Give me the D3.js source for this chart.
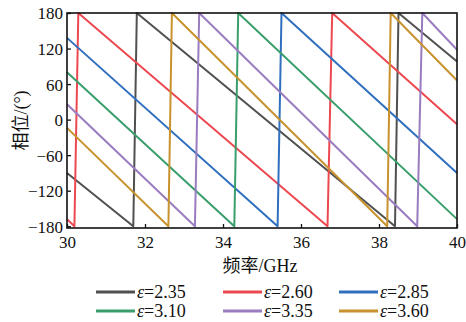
<!DOCTYPE html>
<html>
<head>
<meta charset="utf-8">
<script src="https://cdn.jsdelivr.net/npm/d3@7"></script>
<style>
  html, body { margin: 0; padding: 0; background: #fff; }
  svg text { font-family: "Liberation Serif", "DejaVu Serif", "Noto Serif", "Times New Roman", "Noto Sans CJK SC", serif; fill: #111; }
</style>
</head>
<body>
<div id="canvas"></div>
<script>
"use strict"

/* Data: [frequency GHz, phase deg] vertices of each sawtooth */
let epsLabels = ["2.35", "2.60", "2.85", "3.10", "3.35", "3.60"];
let eps235 = [[30, -90], [31.70, -180], [31.79, 180], [38.41, -180], [38.50, 180], [40, 98]];
let eps260 = [[30, -168], [30.19, -180], [30.29, 180], [36.68, -180], [36.80, 180], [40, -8]];
let eps285 = [[30, 138], [35.40, -180], [35.50, 180], [40, -90]];
let eps310 = [[30, 80], [34.29, -180], [34.39, 180], [40, -168]];
let eps335 = [[30, 26], [33.28, -180], [33.39, 180], [38.98, -180], [39.11, 180], [40, 118]];
let eps360 = [[30, -14], [32.60, -180], [32.69, 180], [38.21, -180], [38.30, 180], [40, 66]];
let xTicks = [30, 32, 34, 36, 38, 40];
let yTicks = [-180, -120, -60, 0, 60, 120, 180];

let seriesList = [eps235, eps260, eps285, eps310, eps335, eps360];
let colors = ["#505050", "#ec4850", "#2f6fbe", "#3a9e6c", "#9a7cc0", "#c8922e"];
let serifFont = "'Liberation Serif', 'DejaVu Serif', 'Times New Roman', serif";

/* Drawing dimensions */
let svgWidth = 466;
let svgHeight = 322;
let plotLeft = 67, plotRight = 457, plotTop = 13, plotBottom = 228;

let svg = d3.select("#canvas")
    .append("svg")
    .attr("width", svgWidth)
    .attr("height", svgHeight);

let xScale = d3.scaleLinear()
    .domain([30, 40])
    .range([plotLeft, plotRight]);

let yScale = d3.scaleLinear()
    .domain([-183, 180])
    .range([plotBottom, plotTop]);

/* Lines */
let line = d3.line()
    .x(function (d) { return xScale(d[0]); })
    .y(function (d) { return yScale(d[1]); });

svg.append("g")
    .selectAll("path")
    .data(seriesList)
    .join("path")
    .attr("fill", "none")
    .attr("stroke", function (d, i) { return colors[i]; })
    .attr("stroke-width", 2)
    .attr("stroke-linejoin", "round")
    .attr("d", line);

/* Frame */
svg.append("rect")
    .attr("x", plotLeft)
    .attr("y", plotTop)
    .attr("width", plotRight - plotLeft)
    .attr("height", plotBottom - plotTop)
    .attr("fill", "none")
    .attr("stroke", "#111")
    .attr("stroke-width", 1.6);

/* Axes with inward ticks */
let xAxis = svg.append("g")
    .attr("transform", "translate(0," + plotBottom + ")")
    .call(d3.axisBottom(xScale).tickValues(xTicks).tickSize(-4).tickPadding(8));

let yAxis = svg.append("g")
    .attr("transform", "translate(" + plotLeft + ",0)")
    .call(d3.axisLeft(yScale).tickValues(yTicks).tickSize(-4).tickPadding(4));

[xAxis, yAxis].forEach(function (ax) {
    ax.attr("font-family", null).attr("font-size", null);
    ax.select(".domain").remove();
    ax.selectAll(".tick line").attr("stroke", "#111").attr("stroke-width", 1.3);
    ax.selectAll(".tick text")
        .attr("font-family", serifFont)
        .style("font-family", serifFont)
        .style("font-size", "17px")
        .attr("fill", "#111");
});
yAxis.selectAll(".tick text").attr("dy", "0.35em");

/* Axis titles */
svg.append("text")
    .attr("x", (plotLeft + plotRight) / 2 - 2)
    .attr("y", 272)
    .attr("text-anchor", "middle")
    .style("font-size", "18px")
    .text("频率/GHz");

svg.append("text")
    .attr("transform", "translate(27," + ((plotTop + plotBottom) / 2) + ") rotate(-90)")
    .attr("text-anchor", "middle")
    .style("font-size", "18px")
    .text("相位/(°)");

/* Legend */
let legendX = [96, 223, 339];
let legendY = [292, 311];
let legend = svg.append("g")
    .selectAll("g")
    .data(epsLabels)
    .join("g")
    .attr("transform", function (d, i) {
        return "translate(" + legendX[i % 3] + "," + legendY[Math.floor(i / 3)] + ")";
    });

legend.append("line")
    .attr("x1", 0)
    .attr("x2", 39)
    .attr("stroke", function (d, i) { return colors[i]; })
    .attr("stroke-width", 3);

let legendText = legend.append("text")
    .attr("x", 41)
    .attr("dy", "0.35em")
    .style("font-size", "18px");
legendText.append("tspan").style("font-style", "italic").text("ε");
legendText.append("tspan").text(function (d) { return "=" + d; });
</script>
</body>
</html>
